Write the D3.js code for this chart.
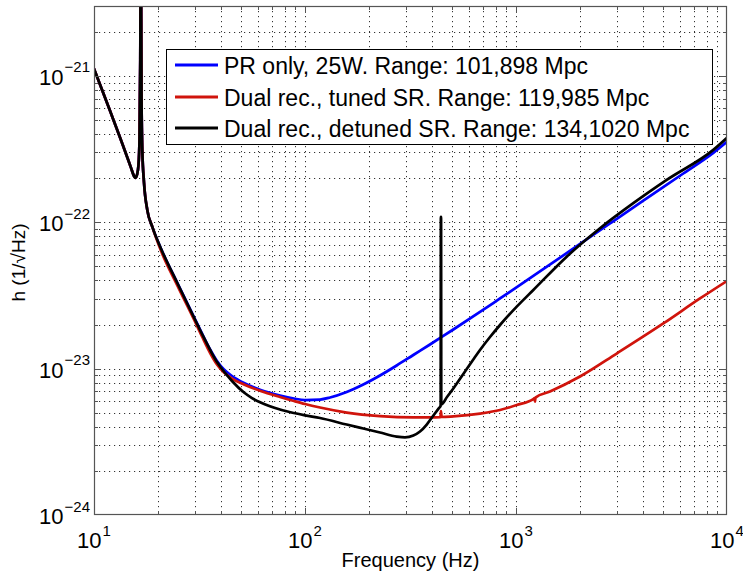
<!DOCTYPE html>
<html><head><meta charset="utf-8">
<script src="https://cdn.jsdelivr.net/npm/d3@7"></script>
<style>
body{margin:0;background:#fff}
svg{display:block}
text{font-family:"Liberation Sans", Arial, Helvetica, sans-serif;fill:#000}
</style>
</head><body>
<svg id="chart" width="743" height="573"></svg>
<script>
// ---- data ----
// shared low-frequency part (all three configurations coincide)
const freqLow = [10, 11.91, 14.02, 14.98, 15.47, 15.73, 15.99, 16.25, 16.43, 16.57, 16.66, 16.80, 16.94, 17.26, 17.89, 18.90];
const hLow    = [1.12e-21, 5.77e-22, 3.07e-22, 2.35e-22, 2.07e-22, 2.01e-22, 2.11e-22, 2.46e-22, 3.66e-22, 1.29e-21, 1e-20, 6.86e-22, 3.12e-22, 1.86e-22, 1.21e-22, 9.29e-23];

// PR only, 25W
const freqPR = [20.71, 24.82, 29.78, 32.50, 35.73, 38.27, 41.31, 45.08, 51.39, 61.66, 76.12, 88.66, 100, 117.8, 131.4, 157.6, 188.9, 226.7, 272.0, 326.1, 391.2, 441.0, 504.5, 675.1, 840, 1208, 2011, 2789, 4012, 6207, 8612, 10000];
const hPR    = [6.673e-23, 3.847e-23, 2.252e-23, 1.738e-23, 1.330e-23, 1.127e-23, 9.858e-24, 8.901e-24, 7.973e-24, 7.140e-24, 6.548e-24, 6.246e-24, 6.101e-24, 6.148e-24, 6.346e-24, 6.920e-24, 7.786e-24, 8.971e-24, 1.050e-23, 1.239e-23, 1.461e-23, 1.632e-23, 1.850e-23, 2.437e-23, 3.014e-23, 4.294e-23, 7.107e-23, 9.81e-23, 1.403e-22, 2.152e-22, 2.976e-22, 3.54e-22];

// Dual recycling, tuned SR
const freqTuned = [20.71, 24.82, 29.78, 32.50, 35.73, 38.27, 41.31, 45.08, 51.39, 61.66, 76.12, 88.66, 100, 117.8, 157.6, 226.7, 326.1, 391.2, 438, 441, 444, 504.5, 675.1, 840, 1008, 1208, 1224, 1230, 1236, 1449, 2011, 3001, 4991, 7447, 10000];
const hTuned    = [6.45e-23, 3.698e-23, 2.165e-23, 1.657e-23, 1.258e-23, 1.067e-23, 9.404e-24, 8.557e-24, 7.786e-24, 7.029e-24, 6.396e-24, 6.005e-24, 5.728e-24, 5.421e-24, 5.011e-24, 4.742e-24, 4.647e-24, 4.647e-24, 4.66e-24, 5.13e-24, 4.67e-24, 4.721e-24, 4.933e-24, 5.212e-24, 5.639e-24, 6.197e-24, 6.28e-24, 5.95e-24, 6.34e-24, 6.974e-24, 8.831e-24, 1.268e-23, 2.034e-23, 3.014e-23, 3.970e-23];

// Dual recycling, detuned SR
const freqDetuned = [20.71, 24.82, 29.78, 32.50, 35.73, 38.27, 41.31, 45.08, 51.39, 56.07, 61.66, 76.12, 88.66, 100, 117.8, 157.6, 188.9, 226.7, 272.0, 297.8, 326.1, 350.8, 377.5, 404.3, 431.6, 439.5, 440.5, 441.5, 442.5, 470.9, 504.5, 562.7, 627.5, 675.1, 753.1, 840, 1008, 1208, 1739, 2501, 3597, 5179, 8612, 10000];
const hDetuned    = [6.673e-23, 3.847e-23, 2.235e-23, 1.724e-23, 1.319e-23, 1.109e-23, 9.554e-24, 8.227e-24, 6.864e-24, 6.295e-24, 5.866e-24, 5.253e-24, 4.972e-24, 4.795e-24, 4.596e-24, 4.149e-24, 3.896e-24, 3.658e-24, 3.435e-24, 3.392e-24, 3.489e-24, 3.716e-24, 4.149e-24, 4.742e-24, 5.379e-24, 5.57e-24, 1.09e-22, 1.09e-22, 5.70e-24, 6.396e-24, 7.311e-24, 9.186e-24, 1.154e-23, 1.340e-23, 1.644e-23, 1.986e-23, 2.649e-23, 3.445e-23, 5.82e-23, 9.10e-23, 1.349e-22, 1.946e-22, 3.120e-22, 3.77e-22];

const seriesNames  = ["PR only, 25W. Range: 101,898 Mpc", "Dual rec., tuned SR. Range: 119,985 Mpc", "Dual rec., detuned SR. Range: 134,1020 Mpc"];
const seriesColors = ["#0000ff", "#d0140c", "#000000"];
const xTickExps = [1, 2, 3, 4];
const yTickExps = [-24, -23, -22, -21];
const xLabel = "Frequency (Hz)";
const yLabel = "h (1/\u221AHz)";

// ---- build ----
const zip = (f, h) => f.map((v, i) => [v, h[i]]);
const lowPts = zip(freqLow, hLow);
const series = [
  lowPts.concat(zip(freqPR, hPR)),
  lowPts.concat(zip(freqTuned, hTuned)),
  lowPts.concat(zip(freqDetuned, hDetuned))
];

const svg = d3.select("#chart");
const L = 94, R = 727, T = 6, B = 515;
const x = d3.scaleLog().domain([10, 1e4]).range([L, R]);
const y = d3.scaleLog().domain([1e-24, 3e-21]).range([B, T]);

const xMajor = xTickExps.map(e => Math.pow(10, e));
const xMinor = [];
for (let e = 1; e < 4; e++) for (let k = 2; k <= 9; k++) xMinor.push(k * Math.pow(10, e));
const yMajor = yTickExps.map(e => Math.pow(10, e));
const yMinor = [];
for (let e = -24; e <= -21; e++) for (let k = 2; k <= 9; k++) { const v = k * Math.pow(10, e); if (v <= 3.0001e-21) yMinor.push(v); }

const px = v => Math.round(x(v)) + 0.5;
const py = v => Math.round(y(v)) + 0.5;

// grid
const grid = svg.append("g").attr("stroke", "#000").attr("stroke-opacity", 0.8).attr("stroke-width", 1).attr("stroke-dasharray", "1.2,3.8").attr("fill", "none");
xMajor.concat(xMinor).forEach(v => {
  if (v <= 10 || v >= 1e4) return;
  grid.append("line").attr("x1", px(v)).attr("x2", px(v)).attr("y1", T).attr("y2", B);
});
yMajor.concat(yMinor).forEach(v => {
  if (v <= 1e-24 || v >= 2.99e-21) return;
  grid.append("line").attr("x1", L).attr("x2", R).attr("y1", py(v)).attr("y2", py(v));
});

// curves
svg.append("clipPath").attr("id", "clip").append("rect").attr("x", L).attr("y", T).attr("width", R - L).attr("height", B - T);
const line = d3.line().x(d => x(d[0])).y(d => y(d[1])).curve(d3.curveMonotoneX);
const cg = svg.append("g").attr("clip-path", "url(#clip)");
series.forEach((s, i) => {
  cg.append("path").attr("d", line(s)).attr("fill", "none").attr("stroke", seriesColors[i])
    .attr("stroke-width", 2.7).attr("stroke-linejoin", "round").attr("stroke-linecap", "round");
});

// box + ticks
const ax = svg.append("g").attr("stroke", "#555").attr("fill", "none");
ax.append("rect").attr("x", L + 0.5).attr("y", T + 0.5).attr("width", R - L - 1).attr("height", B - T - 1).attr("stroke-width", 1.2);
const tick = (vals, len) => {
  vals.forEach(v => {
    if (v > 10 && v < 1e4) {
      ax.append("line").attr("x1", px(v)).attr("x2", px(v)).attr("y1", B).attr("y2", B - len);
      ax.append("line").attr("x1", px(v)).attr("x2", px(v)).attr("y1", T).attr("y2", T + len);
    }
  });
};
tick(xMajor, 7); tick(xMinor, 4);
const ytick = (vals, len) => {
  vals.forEach(v => {
    if (v > 1e-24 && v < 2.99e-21) {
      ax.append("line").attr("x1", L).attr("x2", L + len).attr("y1", py(v)).attr("y2", py(v));
      ax.append("line").attr("x1", R).attr("x2", R - len).attr("y1", py(v)).attr("y2", py(v));
    }
  });
};
ytick(yMajor, 7); ytick(yMinor, 4);

// tick labels
const fmtExp = e => (e < 0 ? "\u2212" + (-e) : String(e));
yTickExps.forEach(e => {
  const t = svg.append("text").attr("x", 90).attr("y", y(Math.pow(10, e)) + 9)
    .attr("text-anchor", "end").attr("font-size", 22);
  t.append("tspan").text("10");
  t.append("tspan").attr("font-size", 15).attr("dy", -12.5).attr("dx", 1).text(fmtExp(e));
});
xTickExps.forEach(e => {
  const t = svg.append("text").attr("x", x(Math.pow(10, e))).attr("y", 548)
    .attr("text-anchor", "middle").attr("font-size", 22);
  t.append("tspan").text("10");
  t.append("tspan").attr("font-size", 15).attr("dy", -12).attr("dx", 1).text(fmtExp(e));
});

// axis labels
svg.append("text").attr("x", (L + R) / 2).attr("y", 567).attr("text-anchor", "middle").attr("font-size", 20).text(xLabel);
svg.append("text").attr("transform", "translate(25," + ((T + B) / 2 + 2) + ") rotate(-90)")
  .attr("text-anchor", "middle").attr("font-size", 19).text(yLabel);

// legend
const lg = svg.append("g");
lg.append("rect").attr("x", 166.5).attr("y", 49.5).attr("width", 546).attr("height", 95)
  .attr("fill", "#fff").attr("stroke", "#000").attr("stroke-width", 1);
const rowY = [65, 97, 128];
seriesNames.forEach((n, i) => {
  lg.append("line").attr("x1", 175).attr("x2", 218).attr("y1", rowY[i]).attr("y2", rowY[i])
    .attr("stroke", seriesColors[i]).attr("stroke-width", 3);
  lg.append("text").attr("x", 224).attr("y", rowY[i] + 9).attr("font-size", 23).text(n);
});
</script>
</body></html>
